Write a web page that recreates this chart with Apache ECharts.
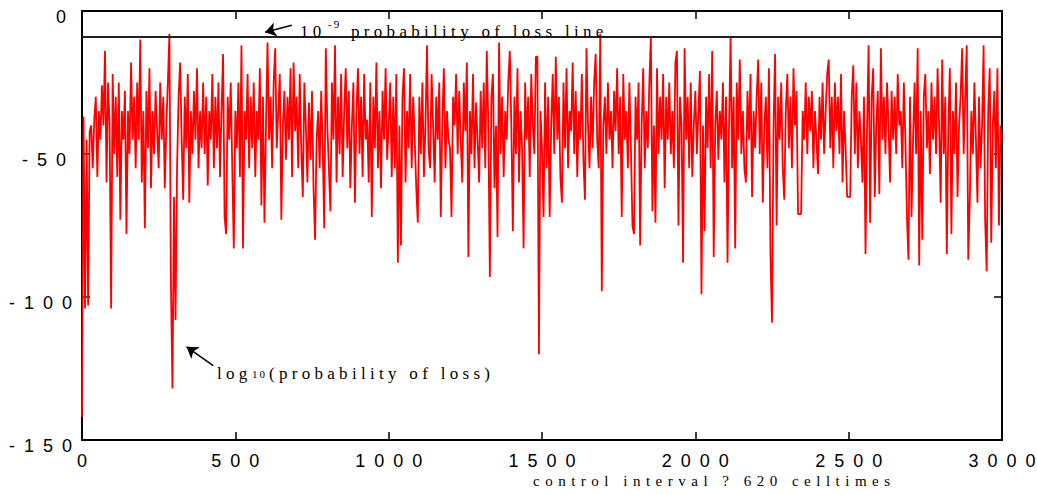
<!DOCTYPE html>
<html><head><meta charset="utf-8">
<script src="https://cdn.jsdelivr.net/npm/echarts@6/dist/echarts.min.js"></script>
<style>html,body{margin:0;padding:0;background:#fff}#chart{width:1037px;height:495px}</style>
</head><body><div id="chart"></div>
<script>
// ---- data ----
const STEP = 5; // control intervals between samples
const logLoss = [
 -142,-37,-104,-45,-103,-42,-40,-55,-38,-30,-58,-35,-45,-26,-40,-14,-60,-25,-40,-104,
 -22,-50,-30,-58,-25,-73,-35,-45,-28,-78,-35,-50,-18,-45,-30,-55,-25,-45,-10,-60,
 -35,-76,-28,-48,-20,-62,-35,-50,-28,-42,-55,-25,-45,-30,-62,-40,-25,-8,-96,-132,
 -65,-108,-55,-30,-18,-45,-66,-30,-48,-22,-67,-35,-50,-28,-45,-20,-55,-35,-48,-25,
 -50,-30,-61,-35,-45,-22,-55,-30,-48,-25,-58,-35,-15,-72,-78,-30,-45,-25,-55,-83,
 -35,-48,-25,-58,-12,-83,-35,-45,-22,-55,-30,-48,-25,-58,-35,-45,-20,-68,-30,-74,
 -40,-11,-45,-30,-55,-25,-13,-48,-35,-22,-73,-40,-28,-52,-30,-45,-20,-58,-18,-42,
 -30,-55,-22,-48,-65,-25,-40,-60,-32,-52,-28,-62,-80,-45,-35,-55,-28,-48,-76,-13,
 -40,-55,-70,-25,-45,-12,-60,-30,-50,-22,-58,-35,-20,-48,-28,-62,-40,-25,-67,-35,
 -20,-50,-30,-58,-22,-45,-38,-60,-25,-72,-30,-48,-18,-55,-35,-62,-28,-45,-20,-52,
 -40,-25,-58,-30,-55,-22,-88,-40,-82,-30,-20,-60,-35,-48,-22,-55,-30,-45,-62,-74,
 -30,-50,-25,-58,-40,-12,-48,-55,-22,-40,-60,-30,-45,-25,-72,-38,-20,-55,-35,-45,
 -48,-72,-30,-40,-22,-50,-28,-45,-60,-25,-42,-18,-86,-35,-50,-22,-55,-32,-45,-60,
 -28,-48,-25,-55,-14,-40,-93,-30,-22,-62,-40,-79,-11,-50,-30,-58,-35,-45,-25,-14,
 -40,-77,-30,-50,-20,-60,-35,-48,-83,-25,-45,-30,-58,-22,-40,-50,-16,-16,-120,-35,
 -48,-72,-25,-55,-30,-72,-40,-22,-50,-16,-45,-30,-58,-67,-25,-48,-20,-55,-35,-42,
 -18,-50,-28,-58,-35,-45,-22,-52,-66,-13,-40,-55,-30,-48,-25,-15,-45,-55,-8,-98,
 -40,-30,-50,-25,-45,-35,-55,-28,-42,-20,-50,-30,-72,-22,-45,-35,-55,-25,-48,-75,
 -78,-30,-45,-25,-82,-40,-20,-55,-35,-48,-25,-9,-70,-40,-74,-20,-50,-30,-45,-22,
 -62,-30,-45,-25,-50,-35,-55,-18,-14,-75,-30,-40,-88,-13,-45,-30,-55,-25,-58,-40,
 -28,-50,-35,-21,-99,-40,-77,-30,-48,-22,-55,-14,-86,-40,-28,-52,-35,-45,-25,-60,
 -30,-88,-40,-9,-55,-30,-83,-25,-45,-17,-50,-35,-55,-60,-28,-45,-22,-65,-35,-48,
 -30,-17,-50,-25,-67,-40,-30,-55,-20,-85,-109,-40,-15,-75,-30,-45,-25,-55,-66,-35,
 -22,-48,-30,-55,-20,-40,-28,-71,-71,-71,-35,-45,-25,-50,-30,-42,-28,-55,-35,-45,
 -57,-30,-45,-25,-50,-35,-22,-17,-48,-30,-55,-25,-42,-30,-50,-22,-60,-35,-48,-65,
 -65,-65,-30,-19,-50,-25,-55,-35,-45,-60,-30,-85,-40,-12,-74,-30,-20,-65,-40,-28,
 -64,-13,-45,-30,-50,-25,-40,-60,-28,-45,-30,-50,-22,-40,-35,-55,-25,-45,-72,-87,
 -30,-72,-45,-25,-50,-13,-89,-35,-80,-30,-22,-48,-35,-57,-25,-45,-30,-50,-20,-40,
 -67,-17,-50,-30,-85,-40,-20,-78,-35,-50,-25,-65,-40,-30,-13,-50,-30,-12,-87,-66,
 -35,-50,-25,-45,-67,-30,-55,-40,-12,-73,-91,-35,-20,-81,-40,-28,-55,-20,-75,-40,
 -45
];
const probLossLine = -9;            // log10(1e-9)
const xRange = [0, 3000];
const yRange = [-150, 0];
const xTickStep = 500;
const yTickStep = 50;
const anno1Parts = ['10', '-9', 'probability of loss line'];
const anno2Parts = ['log', '10', '(probability of loss)'];
const xAxisTitle = 'control interval ? 620 celltimes';
// annotation anchors / arrows in data coordinates
const anno1Anchor = [711, -7.0];
const anno2Anchor = [440, -126.9];
const arrow1 = {from: [684, -5.0], to: [597, -7.45]};
const arrow2 = {from: [428, -124], to: [341, -117.4]};

// ---- chart ----
const SANS = '"Liberation Sans", Arial, sans-serif';
const SERIF = '"Liberation Serif", "Times New Roman", serif';
const lossData = logLoss.map((v, i) => [i * STEP, v]);

const chart = echarts.init(document.getElementById('chart'), null, {renderer: 'svg', width: 1037, height: 495});

function axisBase(extra) {
  return Object.assign({
    type: 'value',
    axisLine: {show: true, onZero: false, lineStyle: {color: '#000', width: 2}},
    axisTick: {show: true, inside: true, length: 8, lineStyle: {color: '#000', width: 1.5}},
    splitLine: {show: false}
  }, extra);
}
const plain = v => String(v);

chart.setOption({
  animation: false,
  backgroundColor: '#fff',
  grid: {left: 82, right: 35, top: 11, bottom: 55},
  xAxis: [
    axisBase({position: 'bottom', min: xRange[0], max: xRange[1], interval: xTickStep,
      axisLabel: {margin: 12, fontFamily: SANS, fontSize: 18, color: '#000', formatter: plain,
        showMinLabel: true, showMaxLabel: true}}),
    axisBase({position: 'top', min: xRange[0], max: xRange[1], interval: xTickStep, axisLabel: {show: false}})
  ],
  yAxis: [
    axisBase({position: 'left', min: yRange[0], max: yRange[1], interval: yTickStep,
      axisLabel: {margin: 10, fontFamily: SANS, fontSize: 18, color: '#000', formatter: plain}}),
    axisBase({position: 'right', min: yRange[0], max: yRange[1], interval: yTickStep, axisLabel: {show: false}})
  ],
  series: [
    {type: 'line', data: [], z: 1, silent: true,
      markLine: {silent: true, symbol: 'none', animation: false, label: {show: false},
        lineStyle: {color: '#231f20', width: 2, type: 'solid'},
        data: [{yAxis: probLossLine}]}},
    {type: 'line', data: lossData, z: 2, silent: true, symbol: 'none', showSymbol: false,
      lineStyle: {color: '#ff0000', width: 1.8}},
    {type: 'line', data: [], z: 3, silent: true,
      markLine: {silent: true, symbol: ['none', 'arrow'], symbolSize: 11, animation: false,
        label: {show: false}, lineStyle: {color: '#000', width: 1.5, type: 'solid'},
        data: [
          [{coord: arrow1.from}, {coord: arrow1.to}],
          [{coord: arrow2.from}, {coord: arrow2.to}]
        ]}}
  ]
});

const a1 = chart.convertToPixel({gridIndex: 0}, anno1Anchor);
const a2 = chart.convertToPixel({gridIndex: 0}, anno2Anchor);
function txt(x, y, text, size, align) {
  return {type: 'text', x: x, y: y, silent: true, z: 10,
    style: {text: text, font: size + 'px ' + SERIF, fill: '#000',
      align: align || 'left', verticalAlign: 'middle', textAlign: align || 'left', textVerticalAlign: 'middle'}};
}
chart.setOption({
  graphic: [
    txt(a1[0], a1[1], anno1Parts[0], 17),
    txt(a1[0] + 28, a1[1] - 7.5, anno1Parts[1], 11),
    txt(a1[0] + 51, a1[1], anno1Parts[2], 17),
    txt(a2[0], a2[1], anno2Parts[0], 17),
    txt(a2[0] + 35, a2[1] + 0.5, anno2Parts[1], 11),
    txt(a2[0] + 52, a2[1], anno2Parts[2], 17),
    txt(533, 481, xAxisTitle, 15)
  ]
});

// spread the glyphs like the reference (letter-spaced text), without trailing space
function applySpacing() {
  document.querySelectorAll('#chart svg text').forEach(t => {
    const cs = getComputedStyle(t);
    const fs = parseFloat(cs.fontSize);
    const serif = /Serif/.test(cs.fontFamily);
    let ls;
    if (!serif) ls = 9;
    else if (fs >= 16) ls = 4.3;
    else if (fs >= 14) ls = 5.5;
    else ls = 2;
    const s = t.textContent;
    if (s.length < 2) return;
    t.removeAttribute('textLength');
    t.style.letterSpacing = '0px';
    const w = t.getComputedTextLength();
    t.setAttribute('lengthAdjust', 'spacing');
    t.setAttribute('textLength', (w + (s.length - 1) * ls).toFixed(2));
  });
  document.querySelectorAll('#chart svg text').forEach(t => {
    const cs = getComputedStyle(t);
    if (/Serif/.test(cs.fontFamily)) return;
    if (t.getAttribute('text-anchor') === 'end') {
      t.setAttribute('dy', '6');
      if (/^-?\d{1,2}$/.test(t.textContent.trim())) t.setAttribute('dx', '-6');
    }
  });
}
chart.on('finished', applySpacing);
applySpacing();
</script>
</body></html>
